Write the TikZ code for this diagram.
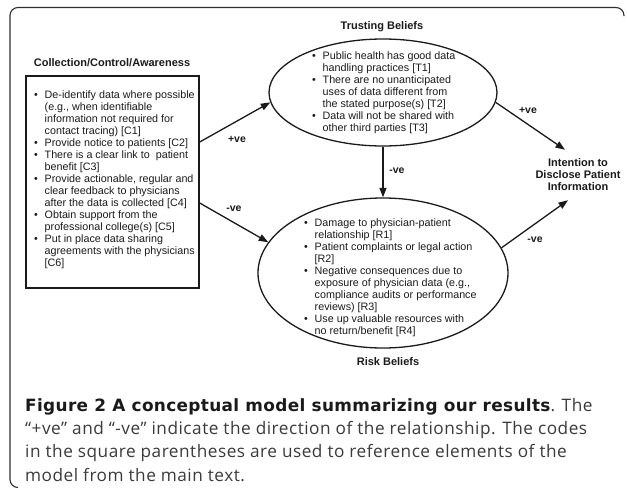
\documentclass[tikz,border=0pt]{standalone}
\usepackage{fontspec}
\setmainfont{Liberation Sans}
\newfontfamily\capfont[LetterSpace=3]{Open Sans}
\newfontfamily\capbold[LetterSpace=2]{DejaVu Sans Bold}
\usetikzlibrary{arrows.meta,shapes.geometric}
\definecolor{ink}{HTML}{1A1A1A}
\definecolor{capgray}{HTML}{3A3A3A}
\definecolor{framec}{HTML}{2E2E2E}
\newcommand\bl{\makebox[10.5pt][l]{\textbullet}}
\newcommand\hi{\hspace*{10.5pt}}
\begin{document}
\begin{tikzpicture}[x=1pt,y=-1pt,
  every node/.style={inner sep=0pt, text=ink},
  listtext/.style={anchor=base west, font=\fontsize{10.75}{12}\selectfont},
  titletext/.style={font=\bfseries\fontsize{11}{12}\selectfont},
  signlabel/.style={font=\bfseries\fontsize{10.5}{12}\selectfont},
  belief/.style={draw=ink, line width=1.3pt, ellipse},
  conn/.style={draw=ink, line width=1.3pt, -{Triangle[length=9.5pt,width=7pt]}}]
\useasboundingbox (0,0) rectangle (627,490);
% frame
\draw[framec, line width=1.1pt, rounded corners=8pt] (18,487.5) -- (10,487.5) -- (10,7.5) -- (624,7.5) -- (624,16);
% left box
\node[titletext] (ctitle) at (112,63) {Collection/Control/Awareness};
\node[draw=ink, line width=1.4pt, minimum width=173pt, minimum height=212pt] (box) at (112.5,182) {};
\node[listtext] (ctext) at (34,98) {\parbox[t]{200pt}{\raggedright
\bl De-identify data where possible\\
\hi(e.g., when identifiable\\
\hi information not required for\\
\hi contact tracing) [C1]\\
\bl Provide notice to patients [C2]\\
\bl There is a clear link to\ \ patient\\
\hi benefit [C3]\\
\bl Provide actionable, regular and\\
\hi clear feedback to physicians\\
\hi after the data is collected [C4]\\
\bl Obtain support from the\\
\hi professional college(s) [C5]\\
\bl Put in place data sharing\\
\hi agreements with the physicians\\
\hi [C6]}};
% trusting beliefs
\node[titletext] (ttitle) at (382,27) {Trusting Beliefs};
\node[belief, minimum width=228pt, minimum height=107pt] (tb) at (383,92.5) {};
\node[listtext] (ttext) at (312,59) {\parbox[t]{200pt}{\raggedright
\bl Public health has good data\\
\hi handling practices [T1]\\
\bl There are no unanticipated\\
\hi uses of data different from\\
\hi the stated purpose(s) [T2]\\
\bl Data will not be shared with\\
\hi other third parties [T3]}};
% risk beliefs
\node[belief, minimum width=250pt, minimum height=150pt] (rb) at (383,273) {};
\node[listtext] (rtext) at (304,226) {\parbox[t]{200pt}{\raggedright
\bl Damage to physician-patient\\
\hi relationship [R1]\\
\bl Patient complaints or legal action\\
\hi [R2]\\
\bl Negative consequences due to\\
\hi exposure of physician data (e.g.,\\
\hi compliance audits or performance\\
\hi reviews) [R3]\\
\bl Use up valuable resources with\\
\hi no return/benefit [R4]}};
\node[titletext] (rtitle) at (388,362) {Risk Beliefs};
% intention
\node[titletext, align=center, inner ysep=9pt] (int) at (578,175) {Intention to\\Disclose Patient\\Information};
% connectors
\draw[conn] ([yshift=40pt]box.east) -- (tb.185);
\draw[conn] ([yshift=-21pt]box.east) -- (rb.165);
\draw[conn] (tb.south) -- (rb.north);
\draw[conn] (tb.-5) -- ([xshift=-13pt]int.north);
\draw[conn] (rb.12) -- ([xshift=-10pt]int.south);
% labels
\node[signlabel] (l1) at (237,139) {+ve};
\node[signlabel] (l2) at (234,209) {-ve};
\node[signlabel] (l3) at (397,171) {-ve};
\node[signlabel] (l4) at (528,110) {+ve};
\node[signlabel] (l5) at (535,240) {-ve};
% caption
\node[anchor=base west, text=capgray, font=\capfont\fontsize{17.2}{23.2}\selectfont] (cap) at (25,398.5) {\parbox[t]{620pt}{\raggedright
{\capbold\fontsize{16.9}{23.2}\selectfont\color{ink}Figure 2 A conceptual model summarizing our results}. The\\
“+ve” and “-ve” indicate the direction of the relationship. The codes\\
in the square parentheses are used to reference elements of the\\
model from the main text.}};
\end{tikzpicture}
\end{document}
